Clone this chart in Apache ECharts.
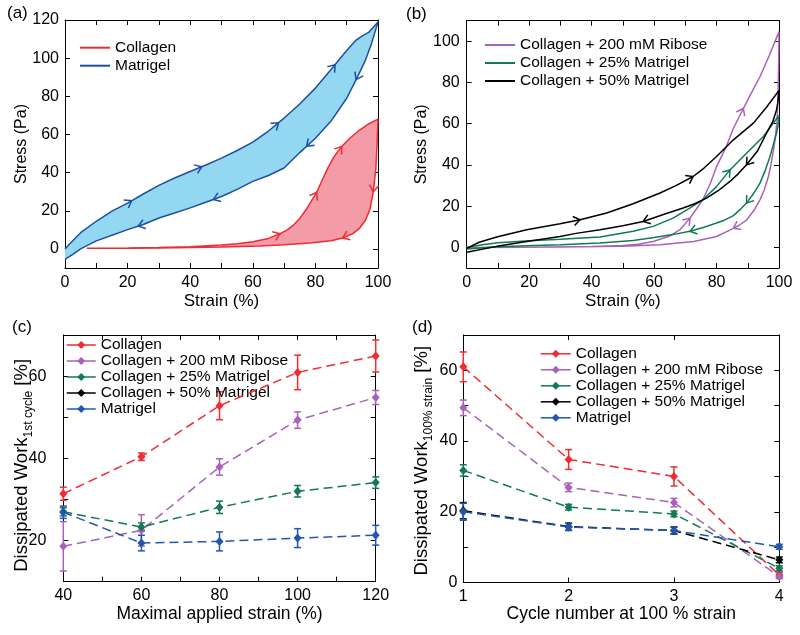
<!DOCTYPE html>
<html><head><meta charset="utf-8">
<script src="https://cdn.jsdelivr.net/npm/echarts@6/dist/echarts.min.js"></script>
<style>html,body{margin:0;padding:0;background:#fff;width:800px;height:635px;overflow:hidden}.p{position:absolute}</style>
</head><body>
<div id="pa" class="p" style="left:0;top:0;width:400px;height:310px"></div>
<div id="pb" class="p" style="left:400px;top:0;width:400px;height:310px"></div>
<div id="pc" class="p" style="left:0;top:310px;width:400px;height:325px"></div>
<div id="pd" class="p" style="left:400px;top:310px;width:400px;height:325px"></div>
<script>
// ---------- Panel (a): stress-strain loops ----------
const aCollagenLoad = [[7,0.3],[20,0.5],[30,0.8],[40,1.2],[50,2],[55,2.7],[60,3.8],[65,5.5],[68.7,8],[71,10],[73,12.5],[75,16],[77,20.5],[78.5,24.5],[80.4,29.6],[82,35.5],[84,42.5],[86,48.5],[88.4,53.7],[91,58],[94,62.2],[97,65.5],[100,68]];
const aCollagenUnload = [[100,68],[99.7,55],[99.3,42],[98.5,30],[97.4,20.6],[96,15],[94.2,11],[92,8],[88.7,5.7],[85,4.3],[78.3,3.1],[70,2.2],[62.3,1.5],[50,1],[40,0.7],[30,0.5],[20,0.3],[7,0.3]];
const aMatrigelLoad = [[0,0],[2,3.5],[5,8.5],[10,14.5],[15,19.8],[20,24],[25,28.8],[30,33.3],[35,37.2],[40,40.6],[45,44],[50,47.6],[55,51.6],[60,56],[65,61.8],[70,68.6],[75,76],[80,84.3],[85,94],[90,104],[93,109.5],[95,111.7],[97,113.5],[100,119]];
const aMatrigelUnload = [[100,119],[98,108],[96,99],[94,92],[92,85.5],[90,79],[85,67],[80,58],[75,50.5],[70,42.4],[65,38.5],[60,35.4],[55,31.2],[50,27.5],[45,24.5],[40,21.5],[35,18.8],[30,16.2],[25,12.8],[20,10.1],[15,7.2],[10,4.2],[5,0],[2.5,-2.8],[0,-5.5]];
const aArrowsCollagenLoad = [68.7, 80.4, 88.4];
const aArrowsCollagenUnload = [98.5, 88.7];
const aArrowsMatrigelLoad = [21.3, 43.7, 68.2, 86.3];
const aArrowsMatrigelUnload = [93, 77.2, 47.4, 23.4];
const aXLabels = [0,20,40,60,80,100];
const aYLabels = [0,20,40,60,80,100,120];

// ---------- Panel (b) ----------
const bRiboseLoad = [[0,0],[20,0.1],[40,0.4],[50,0.9],[55,1.5],[60,3],[65,5.5],[68.3,8.6],[71.5,14.2],[73.5,18.5],[75.6,23.1],[78,31],[80,39.2],[83,48.5],[85.4,57.8],[88.6,67.5],[91,74.5],[93.9,82.8],[97,93.5],[100,104.7]];
const bRiboseUnload = [[100,104.7],[99.9,90],[99.7,75],[99.4,62],[98.8,53],[98.2,47],[97.4,40],[96.6,34.4],[95.3,28],[93.9,23.1],[92,18],[89.7,13.4],[87,10.5],[84.9,8.9],[80,5.3],[72.7,2.9],[61.9,1.3],[50,0.6],[30,0.2],[0,0]];
const bM25Load = [[0,0],[5,1.3],[10,2.2],[20,3.2],[30,3.9],[42.7,5],[53.3,7.8],[59.7,10.2],[66.1,14.2],[71.4,19.1],[75.6,23.1],[80,29.5],[84.3,37.6],[89.6,45.7],[95,53.8],[100,64]];
const bM25Unload = [[100,64],[99.8,60],[99.2,55.5],[98.2,50],[97.1,44],[95.5,37],[93.9,31.2],[91.8,26],[89.6,21.5],[87.5,18.3],[85.4,15.4],[82.5,13.2],[80,11.8],[76,9.8],[71.5,7.8],[66,6.2],[60,4.8],[53.3,3.4],[42.7,2.1],[30,1.3],[19.2,0.8],[10,0.3],[0,-0.8]];
const bM50Load = [[0,-0.5],[4,2.5],[9.6,5],[19.2,8.6],[29.9,11.5],[36.3,13.4],[44.8,16.7],[53.3,21.2],[61.9,26.4],[67,30],[72.5,34.4],[76,38.5],[80,44.1],[85.4,52.2],[91.8,60.3],[96,68],[100,76.1]];
const bM50Unload = [[100,76.1],[99.6,70],[99.2,66.7],[98,61],[96,55.4],[93,46.5],[89.6,40.1],[87,35.8],[84.3,32],[80.5,27.5],[76.8,23.9],[73,21.2],[69.3,19.1],[63,16],[56.5,12.6],[50,10.5],[42.7,8.6],[35,6.8],[29.9,5.3],[19.2,2.9],[9.6,0.5],[0,-2.4]];
const bArrowsRiboseLoad = [71.5, 88.6];
const bArrowsRiboseUnload = [85.4];
const bArrowsM25Load = [84.3];
const bArrowsM25Unload = [89.6, 71.5];
const bArrowsM50Load = [36.3, 72.5];
const bArrowsM50Unload = [89.6, 56.5];
const bXLabels = [0,20,40,60,80,100];
const bYLabels = [0,20,40,60,80,100];

// ---------- Panel (c) ----------
const cStrain = [40,60,80,100,120];
const cCollagen = [31.4,40.4,52.8,60.9,64.9];
const cCollagenErr = [1.6,0.9,3.4,4.2,3.9];
const cRibose = [18.6,22.5,37.9,49.3,54.8];
const cRiboseErr = [6.0,3.8,2.0,2.0,1.7];
const cM25 = [27.0,23.3,28.1,32.0,34.1];
const cM25Err = [1.0,1.0,1.5,1.4,1.4];
const cM50 = [];
const cM50Err = [];
const cMatrigel = [26.9,19.4,19.8,20.6,21.3];
const cMatrigelErr = [1.5,1.9,2.3,2.3,2.4];
const cXLabels = [40,60,80,100,120];
const cYLabels = [20,40,60];

// ---------- Panel (d) ----------
const dCycle = [1,2,3,4];
const dCollagen = [61.0,34.8,30.0,2.1];
const dCollagenErr = [4.2,2.8,2.7,0.8];
const dRibose = [49.4,26.9,22.6,1.7];
const dRiboseErr = [2.2,1.2,1.2,0.6];
const dM25 = [31.7,21.3,19.4,4.0];
const dM25Err = [1.6,0.8,0.8,0.7];
const dM50 = [20.3,15.8,14.7,6.4];
const dM50Err = [2.3,1.0,1.0,0.8];
const dMatrigel = [20.0,15.7,14.7,10.1];
const dMatrigelErr = [2.4,1.0,1.0,0.7];
const dXLabels = [1,2,3,4];
const dYLabels = [0,20,40,60];

const names = ['Collagen','Collagen + 200 mM Ribose','Collagen + 25% Matrigel','Collagen + 50% Matrigel','Matrigel'];

// ---------- helpers ----------
const FONT = '"Liberation Sans", Arial, Helvetica, sans-serif';
const C = {red:'#ef2b33', pink:'#f39ba7', blue:'#1f4f9f', cyan:'#94d7f1', purple:'#a962ba', green:'#107a50', black:'#000000', blue2:'#2257b1'};

function axes(dir, o) {
  const base = {type:'value', min:o.min, max:o.max, interval:o.interval,
    axisLine:{show:true, onZero:false, lineStyle:{color:'#000', width:1}},
    axisTick:{show:true, inside:true, length:5, lineStyle:{color:'#000', width:1}},
    splitLine:{show:false}};
  if (o.ticks) base.axisTick.customValues = o.ticks;
  const main = Object.assign({}, base, {
    position: dir === 'x' ? 'bottom' : 'left',
    name: o.name, nameLocation:'middle', nameGap:o.nameGap, nameMoveOverlap:false,
    nameTextStyle: Object.assign({color:'#000', fontSize:o.nameSize || 17, fontFamily:FONT}, o.nameStyle || {}),
    axisLabel:{show:true, color:'#000', fontSize:16, fontFamily:FONT, margin:o.margin, customValues:o.labels}
  });
  const mirror = Object.assign({}, base, {position: dir === 'x' ? 'top' : 'right', axisLabel:{show:false}, name:''});
  return [main, mirror];
}

function interpArrows(curve, xs) {
  return xs.map(x => {
    for (let i = 0; i < curve.length - 1; i++) {
      const [x0,y0] = curve[i], [x1,y1] = curve[i+1];
      if (x0 !== x1 && (x - x0) * (x - x1) <= 0) {
        const t = (x - x0) / (x1 - x0);
        return [x, y0 + t * (y1 - y0), x0, y0, x1, y1];
      }
    }
    return null;
  }).filter(Boolean);
}

function arrowSeries(curve, xs, color) {
  return {type:'custom', silent:true, z:6, clip:false, encode:{x:0, y:1}, data: interpArrows(curve, xs),
    renderItem: (params, api) => {
      const p = api.coord([api.value(0), api.value(1)]);
      const a = api.coord([api.value(2), api.value(3)]);
      const b = api.coord([api.value(4), api.value(5)]);
      const th = Math.atan2(b[1] - a[1], b[0] - a[0]);
      const L = 8, ph = 0.62;
      const pts = [[p[0] - L*Math.cos(th - ph), p[1] - L*Math.sin(th - ph)], [p[0], p[1]], [p[0] - L*Math.cos(th + ph), p[1] - L*Math.sin(th + ph)]];
      return {type:'polyline', shape:{points:pts}, style:{stroke:color, fill:null, lineWidth:1.5}};
    }};
}

function fillSeries(load, unload, color) {
  return {type:'custom', silent:true, z:1, encode:{x:0, y:1}, data:[[load[0][0], load[0][1]]],
    renderItem: (params, api) => ({type:'polygon', shape:{points: load.concat(unload).map(p => api.coord(p))}, style:{fill:color}})};
}

function loopLine(name, load, unload, color) {
  return {type:'line', name:name, data: load.concat(unload.slice(1)), symbol:'none', showSymbol:false, z:4,
    lineStyle:{color:color, width:1.5}, itemStyle:{color:color}, emphasis:{disabled:true}};
}

function errSeries(xs, ys, es, color) {
  return {type:'custom', silent:true, z:3, clip:false, encode:{x:0, y:1},
    data: ys.map((y, i) => [xs[i], y - es[i], y + es[i]]),
    renderItem: (params, api) => {
      const lo = api.coord([api.value(0), api.value(1)]);
      const hi = api.coord([api.value(0), api.value(2)]);
      const w = 3.5, st = {stroke:color, lineWidth:1.5};
      return {type:'group', children:[
        {type:'line', shape:{x1:lo[0], y1:lo[1], x2:hi[0], y2:hi[1]}, style:st},
        {type:'line', shape:{x1:lo[0]-w, y1:lo[1], x2:lo[0]+w, y2:lo[1]}, style:st},
        {type:'line', shape:{x1:hi[0]-w, y1:hi[1], x2:hi[0]+w, y2:hi[1]}, style:st}
      ]};
    }};
}

function pointLine(name, xs, ys, color) {
  return {type:'line', name:name, data: ys.map((y, i) => [xs[i], y]), symbol:'diamond', symbolSize:[8,9], showSymbol:true, z:4,
    lineStyle:{color:color, width:1.5, type:[9,5]}, itemStyle:{color:color}, emphasis:{disabled:true}};
}

function label(text, left, top) {
  return {type:'text', left:left, top:top, style:{text:text, fontSize:17, fontFamily:FONT, fill:'#000'}};
}

const subRich = {
  n:{fontSize:18.5, fontFamily:FONT, color:'#000', lineHeight:24, verticalAlign:'middle'},
  s:{fontSize:12, fontFamily:FONT, color:'#000', lineHeight:13, verticalAlign:'bottom'}
};

const legendText = {fontSize:15.5, fontFamily:FONT, color:'#000'};

// ---------- chart (a) ----------
const ca = echarts.init(document.getElementById('pa'), null, {renderer:'canvas'});
ca.setOption({
  animation:false,
  grid:{left:65, right:22, top:20, bottom:42, outerBoundsMode:'none'},
  xAxis:axes('x', {min:0, max:100, interval:10, labels:aXLabels, name:'Strain (%)', nameGap:25, margin:7}),
  yAxis:axes('y', {min:-10, max:120, interval:10, ticks:aYLabels, labels:aYLabels, name:'Stress (Pa)', nameGap:35, margin:6, nameSize:16}),
  legend:{data:['Collagen','Matrigel'], orient:'vertical', left:80, top:38.7, padding:0, itemGap:0, icon:'rect', itemWidth:30, itemHeight:2,
    textStyle:Object.assign({lineHeight:18}, legendText), selectedMode:false},
  graphic:[label('(a)', 7, 5)],
  series:[
    fillSeries(aMatrigelLoad, aMatrigelUnload, C.cyan),
    fillSeries(aCollagenLoad, aCollagenUnload, C.pink),
    loopLine('Collagen', aCollagenLoad, aCollagenUnload, C.red),
    loopLine('Matrigel', aMatrigelLoad, aMatrigelUnload, C.blue),
    arrowSeries(aMatrigelLoad, aArrowsMatrigelLoad, C.blue),
    arrowSeries(aMatrigelUnload, aArrowsMatrigelUnload, C.blue),
    arrowSeries(aCollagenLoad, aArrowsCollagenLoad, C.red),
    arrowSeries(aCollagenUnload, aArrowsCollagenUnload, C.red)
  ]
});

// ---------- chart (b) ----------
const cb = echarts.init(document.getElementById('pb'), null, {renderer:'canvas'});
cb.setOption({
  animation:false,
  grid:{left:66.7, right:21, top:20.7, bottom:42, outerBoundsMode:'none'},
  xAxis:axes('x', {min:0, max:100, interval:10, labels:bXLabels, name:'Strain (%)', nameGap:25, margin:7}),
  yAxis:axes('y', {min:-10, max:110, interval:10, ticks:bYLabels, labels:bYLabels, name:'Stress (Pa)', nameGap:37, margin:7, nameSize:16}),
  legend:{data:names.slice(1,4), orient:'vertical', left:85, top:36, padding:0, itemGap:0, icon:'rect', itemWidth:30, itemHeight:2,
    textStyle:Object.assign({lineHeight:18}, legendText), selectedMode:false},
  graphic:[label('(b)', 6, 6)],
  series:[
    loopLine(names[1], bRiboseLoad, bRiboseUnload, C.purple),
    loopLine(names[2], bM25Load, bM25Unload, C.green),
    loopLine(names[3], bM50Load, bM50Unload, C.black),
    arrowSeries(bRiboseLoad, bArrowsRiboseLoad, C.purple),
    arrowSeries(bRiboseUnload, bArrowsRiboseUnload, C.purple),
    arrowSeries(bM25Load, bArrowsM25Load, C.green),
    arrowSeries(bM25Unload, bArrowsM25Unload, C.green),
    arrowSeries(bM50Load, bArrowsM50Load, C.black),
    arrowSeries(bM50Unload, bArrowsM50Unload, C.black)
  ]
});

// ---------- chart (c) ----------
const cc = echarts.init(document.getElementById('pc'), null, {renderer:'canvas'});
cc.setOption({
  animation:false,
  grid:{left:63.3, right:24.3, top:25, bottom:53.3, outerBoundsMode:'none'},
  xAxis:axes('x', {min:40, max:120, interval:10, labels:cXLabels, name:'Maximal applied strain (%)', nameGap:23, margin:6, nameSize:17.5}),
  yAxis:axes('y', {min:10, max:70, interval:10, labels:cYLabels, name:'{n|Dissipated Work}{s|1st cycle}{n| [%]}', nameGap:29, margin:17,
    nameStyle:{rich:subRich, padding:[0,14,0,0]}}),
  legend:{data:names, orient:'vertical', left:66, top:27, padding:0, itemGap:0, itemWidth:29, itemHeight:10,
    lineStyle:{type:'solid', width:1.5}, textStyle:Object.assign({lineHeight:15}, legendText), selectedMode:false},
  graphic:[label('(c)', 12, 9)],
  series:[
    errSeries(cStrain, cCollagen, cCollagenErr, C.red), pointLine(names[0], cStrain, cCollagen, C.red),
    errSeries(cStrain, cRibose, cRiboseErr, C.purple), pointLine(names[1], cStrain, cRibose, C.purple),
    errSeries(cStrain, cM25, cM25Err, C.green), pointLine(names[2], cStrain, cM25, C.green),
    errSeries(cStrain, cM50, cM50Err, C.black), pointLine(names[3], cStrain, cM50, C.black),
    errSeries(cStrain, cMatrigel, cMatrigelErr, C.blue2), pointLine(names[4], cStrain, cMatrigel, C.blue2)
  ]
});

// ---------- chart (d) ----------
const cd = echarts.init(document.getElementById('pd'), null, {renderer:'canvas'});
cd.setOption({
  animation:false,
  grid:{left:63.3, right:20.7, top:25, bottom:52.5, outerBoundsMode:'none'},
  xAxis:axes('x', {min:1, max:4, interval:1, labels:dXLabels, name:'Cycle number at 100 % strain', nameGap:23, margin:6, nameSize:17.5}),
  yAxis:axes('y', {min:0, max:70, interval:10, labels:dYLabels, name:'{n|Dissipated Work}{s|100% strain}{n| [%]}', nameGap:29, margin:6,
    nameStyle:{rich:subRich, padding:[0,4,0,0]}}),
  legend:{data:names, orient:'vertical', left:140, top:35.8, padding:0, itemGap:0, itemWidth:30, itemHeight:10,
    lineStyle:{type:'solid', width:1.5}, textStyle:Object.assign({lineHeight:15}, legendText), selectedMode:false},
  graphic:[label('(d)', 12, 9)],
  series:[
    errSeries(dCycle, dCollagen, dCollagenErr, C.red), pointLine(names[0], dCycle, dCollagen, C.red),
    errSeries(dCycle, dRibose, dRiboseErr, C.purple), pointLine(names[1], dCycle, dRibose, C.purple),
    errSeries(dCycle, dM25, dM25Err, C.green), pointLine(names[2], dCycle, dM25, C.green),
    errSeries(dCycle, dM50, dM50Err, C.black), pointLine(names[3], dCycle, dM50, C.black),
    errSeries(dCycle, dMatrigel, dMatrigelErr, C.blue2), pointLine(names[4], dCycle, dMatrigel, C.blue2)
  ]
});
</script>
</body></html>
